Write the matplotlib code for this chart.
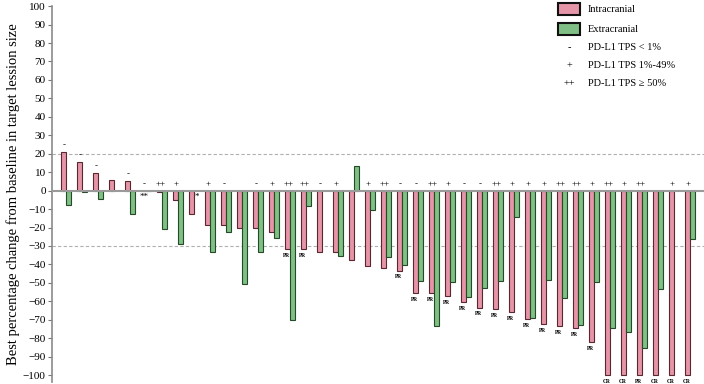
import numpy as np
import matplotlib
matplotlib.use("Agg")
import matplotlib.pyplot as plt
from matplotlib.patches import Rectangle

plt.rcParams['font.family'] = ['Liberation Serif', 'DejaVu Serif']

# best % change per patient (None = no lesion of that kind)
intracranial = [21, 15.5, 9.5, 5.5, 5, 0, -1, -5, -12.5, -18.7,
                -18.7, -20, -20, -22.3, -31.9, -31.9, -33.5, -33.5, -37.7, -40.6,
                -42.2, -43.4, -55.7, -55.7, -57.2, -60.3, -63.5, -64.2, -65.7, -69.8,
                -72.4, -73.4, -74.7, -82.3, -100, -100, -100, -100, -100, -100]
extracranial = [-8, -1, -4.5, None, -12.5, 0, -21, -29, None, -33.5,
                -22.3, -50.8, -33.5, -25.6, -70.2, -8.2, None, -35.5, 13.3, -10.6,
                -35.9, -40.2, -48.9, -73.4, -49.4, -57.9, -52.7, -49.2, -14.2, -69.3,
                -48.7, -58.4, -73.1, -49.8, -74.7, -76.5, -85.5, -53.6, None, -26.5]
pdl1 = ['-', '-', '-', '', '-', '-', '++', '+', '', '+',
        '-', '', '-', '+', '++', '++', '-', '+', '', '+',
        '++', '-', '-', '++', '+', '-', '-', '++', '+', '+',
        '+', '++', '++', '+', '++', '+', '++', '', '+', '+']
response = ['', '', '', '', '', '', '', '', '', '',
            '', '', '', '', 'PR', 'PR', '', '', '', '',
            '', 'PR', 'PR', 'PR', 'PR', 'PR', 'PR', 'PR', 'PR', 'PR',
            'PR', 'PR', 'PR', 'PR', 'CR', 'CR', 'PR', 'CR', 'CR', 'CR']
marks = {6: '**', 9: '*'}

pink = '#E595A7'
green = '#80BF85'

fig = plt.figure(figsize=(7.04, 3.84), dpi=100)
ax = fig.add_axes([52 / 704, 0.004, 1 - 52 / 704, 0.98])

x = np.arange(1, len(intracranial) + 1)
w = 0.34
intra = np.array(intracranial, dtype=float)
extra = np.array([np.nan if v is None else v for v in extracranial])

ax.axhline(20, color='#b0b0b0', lw=0.8, ls=(0, (3, 2)), zorder=0)
ax.axhline(-30, color='#b0b0b0', lw=0.8, ls=(0, (3, 2)), zorder=0)

ax.bar(x - w / 2, intra, w, color=pink, edgecolor='#5a2630', lw=0.8, zorder=2)
ok = ~np.isnan(extra)
ax.bar(x[ok] + w / 2, extra[ok], w, color=green, edgecolor='#244a26', lw=0.8, zorder=2)
ax.axhline(0, color='#9a9a9a', lw=1.5, zorder=3)

for i in range(len(x)):
    top = max(intra[i], 0 if np.isnan(extra[i]) else extra[i], 0)
    if pdl1[i]:
        ax.text(x[i] - 0.1, top + 1.5, pdl1[i], ha='center', va='bottom', fontsize=6.5)
    if response[i]:
        ax.text(x[i] - w / 2 - 0.05, intra[i] - 2, response[i], ha='center', va='top',
                fontsize=4, fontweight='bold')
    if (i + 1) in marks:
        ax.text(x[i] + w / 2 - (0.3 if i == 5 else 0), -1.5, marks[i + 1], ha='center', va='top',
                fontsize=6.5)

ax.set_xlim(0.125, 40.875)
ax.set_ylim(-104, 100)
ax.set_yticks(np.arange(-100, 101, 10))
ax.tick_params(axis='y', labelsize=8, length=3, width=0.8, color='#777777', pad=1.5)
ax.set_xticks([])
for s in ['top', 'right', 'bottom']:
    ax.spines[s].set_visible(False)
ax.spines['left'].set_color('#8a8a8a')
ax.spines['left'].set_linewidth(1.2)
ax.set_ylabel('Best percentage change from baseline in target lession size', fontsize=10.5, labelpad=2)

# legend
W, H = 704, 384
def fx(px):
    return px / W
def fy(py):
    return 1 - py / H

fig.add_artist(Rectangle((fx(558), fy(15)), 22 / W, 12 / H, transform=fig.transFigure,
                         facecolor=pink, edgecolor='#111111', lw=1.5))
fig.add_artist(Rectangle((fx(558), fy(35)), 22 / W, 12 / H, transform=fig.transFigure,
                         facecolor=green, edgecolor='#111111', lw=1.5))
leg_items = [(9, '', 'Intracranial'), (29, '', 'Extracranial'),
             (48, '-', 'PD-L1 TPS < 1%'), (66, '+', 'PD-L1 TPS 1%-49%'),
             (84, '++', 'PD-L1 TPS \u2265 50%')]
for py, sym, lab in leg_items:
    if sym:
        fig.text(fx(569), fy(py), sym, ha='center', va='center', fontsize=7.5)
    fig.text(fx(588), fy(py), lab, ha='left', va='center', fontsize=7.5)

fig.savefig('out.png', dpi=100)
